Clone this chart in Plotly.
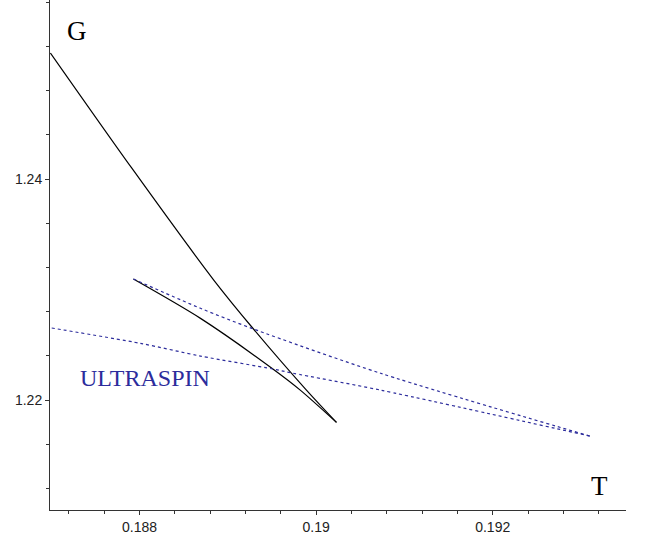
import plotly.graph_objects as go

# Stable branch (solid black): steep part down to the cusp, then back up
steep_T = [0.18699, 0.18791, 0.18884, 0.18929, 0.18989, 0.19023]
steep_G = [1.25140, 1.24100, 1.23086, 1.22643, 1.22090, 1.21798]
lower_T = [0.19023, 0.18982, 0.18951, 0.18869, 0.18793]
lower_G = [1.21798, 1.22090, 1.22281, 1.22739, 1.23095]

# Ultraspin branch (blue dashed)
ultra_up_T = [0.18793, 0.18869, 0.18929, 0.19073, 0.19310]
ultra_up_G = [1.23095, 1.22830, 1.22643, 1.22242, 1.21674]
ultra_lo_T = [0.19310, 0.19073, 0.18973, 0.18951, 0.18869, 0.18801, 0.18699]
ultra_lo_G = [1.21674, 1.22090, 1.22244, 1.22281, 1.22398, 1.22513, 1.22654]

x_ticks = [0.188, 0.19, 0.192]
x_tick_labels = ["0.188", "0.19", "0.192"]
y_ticks = [1.22, 1.24]
y_tick_labels = ["1.22", "1.24"]

BLUE = "#2c2c9c"

fig = go.Figure()
for xs, ys in [(steep_T, steep_G), (lower_T, lower_G)]:
    fig.add_trace(go.Scatter(x=xs, y=ys, mode="lines",
                             line=dict(color="black", width=1.2, shape="spline", smoothing=0.8),
                             hoverinfo="skip"))
for xs, ys in [(ultra_up_T, ultra_up_G), (ultra_lo_T, ultra_lo_G)]:
    fig.add_trace(go.Scatter(x=xs, y=ys, mode="lines",
                             line=dict(color=BLUE, width=1.2, dash="3px,3px", shape="spline", smoothing=0.8),
                             hoverinfo="skip"))

tickfont = dict(family="Liberation Sans, Arial, sans-serif", size=14, color="#222222")
fig.update_layout(
    width=647, height=539,
    margin=dict(l=50, r=21, t=0, b=29),
    paper_bgcolor="white", plot_bgcolor="white",
    showlegend=False,
    xaxis=dict(range=[0.186985, 0.19351], showgrid=False, zeroline=False,
               showline=True, linecolor="#333333", linewidth=1,
               tickmode="array", tickvals=x_ticks, ticktext=x_tick_labels,
               ticks="outside", ticklen=4, tickcolor="#333333", tickfont=tickfont,
               minor=dict(dtick=0.0004, tick0=0.188, ticks="outside", ticklen=3,
                          tickcolor="#333333", showgrid=False)),
    yaxis=dict(range=[1.21005, 1.2562], showgrid=False, zeroline=False,
               showline=True, linecolor="#333333", linewidth=1,
               tickmode="array", tickvals=y_ticks, ticktext=y_tick_labels,
               ticks="outside", ticklen=4, tickcolor="#333333", tickfont=tickfont,
               minor=dict(dtick=0.004, tick0=1.22, ticks="outside", ticklen=3,
                          tickcolor="#333333", showgrid=False)),
    annotations=[
        dict(x=0.18729, y=1.25339, text="G", showarrow=False,
             font=dict(family="Liberation Serif, Times New Roman, serif", size=27, color="black")),
        dict(x=0.19321, y=1.21226, text="T", showarrow=False,
             font=dict(family="Liberation Serif, Times New Roman, serif", size=27, color="black")),
        dict(x=0.18806, y=1.22199, text="ULTRASPIN", showarrow=False,
             font=dict(family="Liberation Serif, Times New Roman, serif", size=24, color=BLUE)),
    ],
)

fig.write_html("out.html", config={"displayModeBar": False},
               post_script="document.body.style.margin='0';document.body.style.padding='0';")
